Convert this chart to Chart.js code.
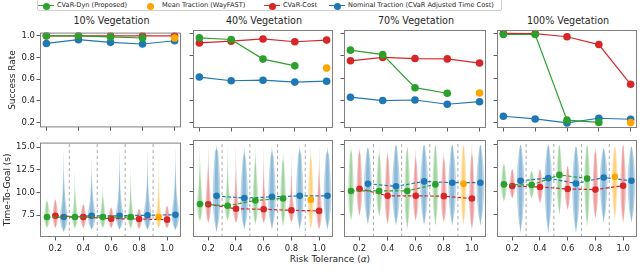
<!DOCTYPE html>
<html>
<head>
<meta charset="utf-8">
<script src="https://cdn.jsdelivr.net/npm/chart.js@4.4.1/dist/chart.umd.min.js"></script>
<style>
    body { margin: 0; width: 640px; height: 280px; overflow: hidden; position: relative; background: #fff;
           font-family: "DejaVu Sans", sans-serif; color: #262626; }
    canvas { position: absolute; }
    .title { position: absolute; top: 14px; height: 13px; line-height: 13px; font-size: 9.6px; text-align: center; }
    #legend { position: absolute; left: 37px; top: -4px; width: 463px; height: 13px; border: 1px solid #d0d0d0;
              border-radius: 2px; background: #fff; }
    .lg-line { position: absolute; top: 8px; height: 1.2px; width: 16px; }
    .lg-dot { position: absolute; top: 5.5px; width: 7px; height: 7px; border-radius: 50%; }
    .lg-text { position: absolute; top: 4px; font-size: 6.6px; line-height: 8px; white-space: nowrap; }
    #xlabel { position: absolute; left: 230px; width: 200px; top: 254px; text-align: center; font-size: 9px; line-height: 11px; }
</style>
</head>
<body>
<div id="legend"></div>
<div id="xlabel">Risk Tolerance (<i>α</i>)</div>
<script>
// ---- data ----
const alphas = [0.2, 0.4, 0.6, 0.8, 1.0];
const vegLevels = ['10% Vegetation', '40% Vegetation', '70% Vegetation', '100% Vegetation'];
const successTicks = [0.2, 0.4, 0.6, 0.8, 1.0];
const ttgTicks = [7.5, 10.0, 12.5, 15.0];
const separators = [0.3, 0.5, 0.7, 0.9];

// success rate: one row per vegetation level, one value per alpha
const successDyn = [[1.0, 1.0, 0.99, 0.98], [0.96, 0.945, 0.77, 0.71], [0.85, 0.81, 0.515, 0.465], [0.99, 0.99, 0.225, 0.205]];
const successCost = [[1.0, 1.0, 1.0, 1.0, 1.0], [0.915, 0.93, 0.95, 0.925, 0.94], [0.755, 0.785, 0.775, 0.772, 0.735], [1.0, 0.997, 0.97, 0.90, 0.545]];
const successNominal = [[0.93, 0.965, 0.94, 0.925, 0.955], [0.61, 0.577, 0.582, 0.565, 0.573], [0.43, 0.40, 0.405, 0.367, 0.39], [0.26, 0.236, 0.20, 0.242, 0.233]];
const successWayfast = [0.98, 0.69, 0.468, 0.203];   // only at alpha = 1.0

// time-to-goal (s): medians, and lower / upper ends of each violin
const ttgDynMed = [[7.3, 7.3, 7.3, 7.3], [8.63, 8.45, 9.02, 9.23], [10.04, 10.04, 10.04, 10.74], [10.74, 10.67, 11.76, 11.37]];
const ttgDynLow = [[6.06, 6.06, 6.06, 6.06], [6.77, 6.85, 6.4, 6.25], [6.85, 7.3, 5.9, 6.3], [8.88, 9.23, 7.47, 6.2]];
const ttgDynHigh = [[9.4, 12.2, 10.8, 12.9], [15.0, 15.0, 14.8, 14.1], [15.0, 14.7, 14.7, 15.0], [12.92, 12.2, 15.0, 15.0]];

const ttgCostMed = [[7.44, 7.3, 7.12, 7.08, 7.01], [8.6, 8.13, 8.07, 7.96, 7.9], [10.28, 9.51, 9.51, 9.48, 9.23], [10.57, 10.46, 10.25, 10.18, 10.6]];
const ttgCostLow = [[6.06, 6.06, 6.06, 5.95, 6.06], [6.6, 6.6, 6.6, 6.7, 5.9], [7.3, 6.4, 6.8, 6.6, 5.9], [9.23, 8.7, 8.0, 7.1, 6.6]];
const ttgCostHigh = [[9.23, 8.7, 8.35, 8.2, 8.53], [15.0, 15.0, 14.7, 14.1, 14.8], [14.8, 14.6, 14.6, 14.3, 15.0], [12.4, 12.4, 12.7, 14.8, 15.0]];

const ttgNomMed = [[7.3, 7.44, 7.44, 7.5, 7.54], [9.51, 9.27, 9.4, 9.51, 9.51], [10.81, 10.53, 11.06, 10.92, 10.92], [11.13, 11.41, 10.84, 11.48, 11.13]];
const ttgNomLow = [[5.64, 5.9, 5.9, 5.9, 5.85], [5.6, 5.9, 5.9, 5.9, 5.9], [6.4, 6.3, 6.3, 6.3, 6.3], [5.5, 5.5, 5.5, 6.6, 6.6]];
const ttgNomHigh = [[14.5, 13.8, 14.7, 14.5, 14.8], [15.0, 15.0, 15.0, 15.0, 14.8], [14.7, 15.0, 15.0, 15.0, 15.0], [15.0, 15.0, 14.8, 14.6, 14.8]];

const ttgWayMed = [7.3, 9.09, 10.8, 11.55];
const ttgWayLow = [6.06, 5.9, 6.3, 7.0];
const ttgWayHigh = [13.8, 14.8, 15.0, 14.8];

// ---- styling / layout ----
const styles = {
    dyn:  { color: '#2ca02c', fill: 'rgba(44,160,44,0.26)',  offset: -0.06, hw: 0.02,  order: 1 },
    cost: { color: '#d62728', fill: 'rgba(214,39,40,0.26)',  offset: 0,     hw: 0.02,  order: 2 },
    nom:  { color: '#1f77b4', fill: 'rgba(31,119,180,0.3)',  offset: 0.06,  hw: 0.027, order: 3 },
    way:  { color: '#ffa500', fill: 'rgba(255,165,0,0.3)',   offset: -0.06, hw: 0.02,  order: 0 }
};
const colLeft = [40, 193, 344, 497];
const colRight = [183, 335, 488, 639];
const topRow = { top: 28, bottom: 128, axisH: 6 };
const botRow = { top: 138, bottom: 237, axisH: 18 };
const ttgRange = [5.1, 15.5];
const tickFont = { family: 'DejaVu Sans', size: 8.5 };
const labelFont = { family: 'DejaVu Sans', size: 9 };

// legend
const legendItems = [
    { text: 'CVaR-Dyn (Proposed)', st: styles.dyn, marker: 46, line: true, textX: 57 },
    { text: 'Mean Traction (WayFAST)', st: styles.way, marker: 150, line: false, textX: 162 },
    { text: 'CVaR-Cost', st: styles.cost, marker: 272, line: true, textX: 283 },
    { text: 'Nominal Traction (CVaR Adjusted Time Cost)', st: styles.nom, marker: 337, line: true, textX: 348 }
];
const legend = document.getElementById('legend');
legendItems.forEach(it => {
    const ox = 38; // legend box left edge incl. border
    if (it.line) {
        const l = document.createElement('div');
        l.className = 'lg-line';
        l.style.left = (it.marker - 8 - ox) + 'px';
        l.style.background = it.st.color;
        legend.appendChild(l);
    }
    const d = document.createElement('div');
    d.className = 'lg-dot';
    d.style.left = (it.marker - 3.5 - ox) + 'px';
    d.style.background = it.st.color;
    legend.appendChild(d);
    const t = document.createElement('div');
    t.className = 'lg-text';
    t.style.left = (it.textX - ox) + 'px';
    t.textContent = it.text;
    legend.appendChild(t);
});

const framePlugin = {
    id: 'frame',
    afterDatasetsDraw(chart) {
        const { ctx, chartArea: a } = chart;
        ctx.save();
        ctx.strokeStyle = '#808080';
        ctx.lineWidth = 1;
        ctx.strokeRect(a.left + 0.5, a.top + 0.5, a.right - a.left - 1, a.bottom - a.top - 1);
        ctx.restore();
    }
};

// outline of one violin from its low end, median and high end
function violinPath(x, low, med, high, hw) {
    const upper = Math.min(high, med + 1.2 * (med - low));
    const prof = [[low, 0], [low + 0.4 * (med - low), 0.7], [med, 1]];
    if (high - upper > 0.5) {
        prof.push([upper, 0.45], [upper + 0.5 * (high - upper), 0.1]);
    } else {
        prof.push([med + 0.7 * (high - med), 0.55]);
    }
    prof.push([high, 0]);
    const left = prof.map(([y, w]) => ({ x: x - w * hw, y: y }));
    const right = prof.slice(0, -1).reverse().map(([y, w]) => ({ x: x + w * hw, y: y }));
    return left.concat(right);
}

function makeCanvas(col, row) {
    const c = document.createElement('canvas');
    const left = col === 0 ? 0 : colLeft[col] - 6;
    const top = row.top - 2;
    const w = colRight[col] - left + 2;
    const h = row.bottom - top + row.axisH;
    c.width = w; c.height = h;
    c.style.left = left + 'px'; c.style.top = top + 'px';
    c.style.width = w + 'px'; c.style.height = h + 'px';
    document.body.appendChild(c);
    return c;
}

function axes(col, row, xMin, xMax, xTicks, showXLabels, yMin, yMax, yTicks, yTitle, yTitlePad) {
    const yW = col === 0 ? colLeft[0] : 6;
    return {
        x: {
            type: 'linear', min: xMin, max: xMax,
            afterBuildTicks: s => { s.ticks = xTicks.map(v => ({ value: v })); },
            afterFit: s => { s.height = row.axisH; },
            grid: { drawOnChartArea: false, drawTicks: true, tickLength: 3.5, color: '#333', lineWidth: 0.8 },
            border: { display: false },
            ticks: { display: showXLabels, autoSkip: false, maxRotation: 0, padding: 3, font: tickFont, color: '#262626',
                     callback: v => v.toFixed(1) }
        },
        y: {
            type: 'linear', min: yMin, max: yMax,
            afterBuildTicks: s => { s.ticks = yTicks.map(v => ({ value: v })); },
            afterFit: s => { s.width = yW; },
            grid: { drawOnChartArea: false, drawTicks: true, tickLength: 3.5, color: '#333', lineWidth: 0.8 },
            border: { display: false },
            ticks: { display: col === 0, autoSkip: false, padding: 1.5, font: tickFont, color: '#262626',
                     callback: v => v.toFixed(1) },
            title: { display: col === 0, text: yTitle, font: labelFont, color: '#262626', padding: { top: yTitlePad, bottom: 0 } }
        }
    };
}

const baseOptions = {
    responsive: false, animation: false, events: [], devicePixelRatio: 1,
    layout: { padding: { top: 2, right: 2, left: 0, bottom: 0 } },
    plugins: { legend: { display: false }, tooltip: { enabled: false } }
};

function seriesLine(points, st, dashed, radius) {
    return {
        data: points, borderColor: st.color, backgroundColor: st.color, borderWidth: 1.2,
        borderDash: dashed ? [3.5, 2] : [], pointRadius: radius, pointBackgroundColor: st.color,
        pointBorderWidth: 0, tension: 0, fill: false, order: st.order
    };
}

function violinSet(points, st) {
    return {
        data: points, borderWidth: 0, borderColor: 'rgba(0,0,0,0)', backgroundColor: st.fill, fill: 'shape',
        pointRadius: 0, tension: 0.4, order: 30
    };
}

vegLevels.forEach((name, p) => {
    // panel title
    const t = document.createElement('div');
    t.className = 'title';
    t.style.left = colLeft[p] + 'px';
    t.style.width = (colRight[p] - colLeft[p]) + 'px';
    t.textContent = name;
    document.body.appendChild(t);

    // success rate (top row), x positions are the alpha indices
    const idx = alphas.map((a, i) => i);
    new Chart(makeCanvas(p, topRow), {
        type: 'line',
        data: {
            datasets: [
                seriesLine(successDyn[p].map((v, i) => ({ x: i, y: v })), styles.dyn, false, 3.8),
                seriesLine(successCost[p].map((v, i) => ({ x: i, y: v })), styles.cost, false, 3.8),
                seriesLine(successNominal[p].map((v, i) => ({ x: i, y: v })), styles.nom, false, 3.8),
                seriesLine([{ x: 4, y: successWayfast[p] }], styles.way, false, 3.8)
            ]
        },
        options: Object.assign({}, baseOptions, {
            scales: axes(p, topRow, -0.2, 4.2, idx, false, 0.155, 1.03, successTicks, 'Success Rate', 7.5)
        }),
        plugins: [framePlugin]
    });

    // time-to-goal (bottom row)
    const groups = [
        { st: styles.dyn, med: ttgDynMed[p], low: ttgDynLow[p], high: ttgDynHigh[p], xs: alphas.slice(0, 4) },
        { st: styles.cost, med: ttgCostMed[p], low: ttgCostLow[p], high: ttgCostHigh[p], xs: alphas },
        { st: styles.nom, med: ttgNomMed[p], low: ttgNomLow[p], high: ttgNomHigh[p], xs: alphas },
        { st: styles.way, med: [ttgWayMed[p]], low: [ttgWayLow[p]], high: [ttgWayHigh[p]], xs: alphas.slice(4) }
    ];
    const ds = [{
        data: separators.flatMap(s => [{ x: s, y: ttgRange[0] }, { x: s, y: ttgRange[1] }, { x: s, y: null }]),
        borderColor: 'rgba(150,150,150,0.8)', borderWidth: 1, borderDash: [3, 3], pointRadius: 0,
        tension: 0, fill: false, spanGaps: false, order: 40
    }];
    groups.forEach(g => {
        g.med.forEach((m, i) => {
            const x = g.xs[i] + g.st.offset;
            // outer shape plus a narrower core, like the layered violins in the figure
            ds.push(violinSet(violinPath(x, g.low[i], m, g.high[i], g.st.hw), g.st));
            ds.push(violinSet(violinPath(x, g.low[i], m, g.high[i], g.st.hw * 0.5), g.st));
        });
        ds.push(seriesLine(g.med.map((m, i) => ({ x: g.xs[i] + g.st.offset, y: m })), g.st, true, 3.3));
    });
    new Chart(makeCanvas(p, botRow), {
        type: 'line',
        data: { datasets: ds },
        options: Object.assign({}, baseOptions, {
            scales: axes(p, botRow, 0.09, 1.1, alphas, true, ttgRange[0], ttgRange[1], ttgTicks, 'Time-To-Goal (s)', 2.5)
        }),
        plugins: [framePlugin]
    });
});
</script>
</body>
</html>
